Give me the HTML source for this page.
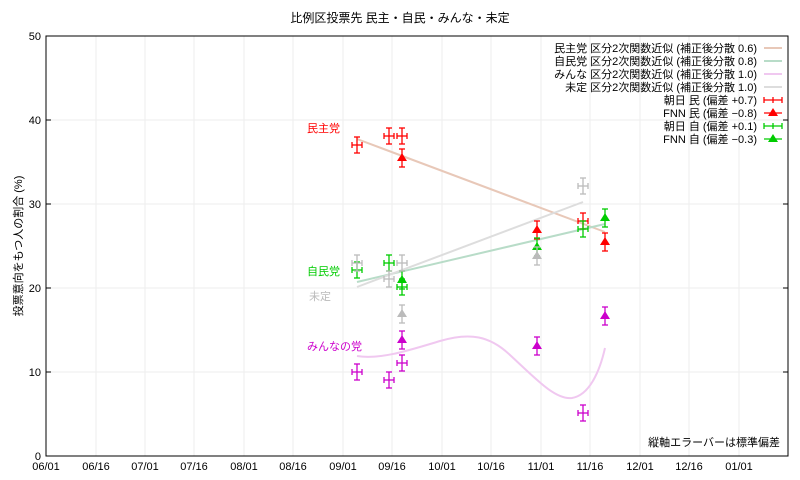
<!DOCTYPE html><html><head><meta charset="utf-8"><style>body{margin:0;background:#fff}svg{display:block;font-family:"Liberation Sans","Noto Sans CJK JP",sans-serif}</style></head><body>
<svg width="800" height="480" viewBox="0 0 800 480">
<rect width="800" height="480" fill="#fff"/>
<g stroke="#eee" stroke-width="1">
<line x1="96" y1="36" x2="96" y2="456"/><line x1="145" y1="36" x2="145" y2="456"/><line x1="194" y1="36" x2="194" y2="456"/><line x1="244" y1="36" x2="244" y2="456"/><line x1="293" y1="36" x2="293" y2="456"/><line x1="343" y1="36" x2="343" y2="456"/><line x1="392" y1="36" x2="392" y2="456"/><line x1="442" y1="36" x2="442" y2="456"/><line x1="491" y1="36" x2="491" y2="456"/><line x1="541" y1="36" x2="541" y2="456"/><line x1="590" y1="36" x2="590" y2="456"/><line x1="640" y1="36" x2="640" y2="456"/><line x1="689" y1="36" x2="689" y2="456"/><line x1="739" y1="36" x2="739" y2="456"/>
<line x1="46" y1="372" x2="788" y2="372"/><line x1="46" y1="288" x2="788" y2="288"/><line x1="46" y1="204" x2="788" y2="204"/><line x1="46" y1="120" x2="788" y2="120"/>
</g>
<rect x="46" y="36" width="742" height="420" fill="none" stroke="#000"/>
<g stroke="#000"><line x1="46" y1="372" x2="51" y2="372"/><line x1="46" y1="288" x2="51" y2="288"/><line x1="46" y1="204" x2="51" y2="204"/><line x1="46" y1="120" x2="51" y2="120"/>
<line x1="783" y1="372" x2="788" y2="372"/><line x1="783" y1="288" x2="788" y2="288"/><line x1="783" y1="204" x2="788" y2="204"/><line x1="783" y1="120" x2="788" y2="120"/></g>
<g font-size="11" fill="#000" text-anchor="end">
<text x="41" y="460">0</text><text x="41" y="376">10</text><text x="41" y="292">20</text><text x="41" y="208">30</text><text x="41" y="124">40</text><text x="41" y="40">50</text></g>
<g font-size="11" fill="#000" text-anchor="middle">
<text x="46" y="470">06/01</text><text x="96" y="470">06/16</text><text x="145" y="470">07/01</text><text x="194" y="470">07/16</text><text x="244" y="470">08/01</text><text x="293" y="470">08/16</text><text x="343" y="470">09/01</text><text x="392" y="470">09/16</text><text x="442" y="470">10/01</text><text x="491" y="470">10/16</text><text x="541" y="470">11/01</text><text x="590" y="470">11/16</text><text x="640" y="470">12/01</text><text x="689" y="470">12/16</text><text x="739" y="470">01/01</text></g>
<text x="400" y="22" font-size="12" text-anchor="middle">比例区投票先 民主・自民・みんな・未定</text>
<text transform="translate(22,246) rotate(-90)" font-size="11" text-anchor="middle">投票意向をもつ人の割合 (%)</text>
<text x="780" y="446" font-size="11" text-anchor="end">縦軸エラーバーは標準偏差</text>
<g fill="none" stroke-width="2">
<line x1="357" y1="139" x2="605" y2="232" stroke="#e8c8b8"/>
<line x1="357" y1="282" x2="605" y2="224" stroke="#b8dcc8"/>
<line x1="357" y1="287" x2="583" y2="202" stroke="#ddd"/>
<path d="M357,356 C380,360 410,350 440,341 C470,332 490,336 510,355 C535,378 555,400 572,398 C590,395 600,370 605,348" stroke="#f0c8f0"/>
</g>
<g font-size="11">
<text x="307" y="132" fill="#f00">民主党</text><text x="307" y="275" fill="#0c0">自民党</text><text x="309" y="300" fill="#bbb">未定</text><text x="307" y="350" fill="#c0c">みんなの党</text></g>
<defs>
<g id="cr"><line x1="-5" y1="0" x2="5" y2="0"/><line x1="-5" y1="-3" x2="-5" y2="3"/><line x1="5" y1="-3" x2="5" y2="3"/><line x1="0" y1="-8" x2="0" y2="8"/><line x1="-3" y1="-8" x2="3" y2="-8"/><line x1="-3" y1="8" x2="3" y2="8"/></g>
<g id="tr"><line x1="0" y1="-9" x2="0" y2="9"/><line x1="-3" y1="-9" x2="3" y2="-9"/><line x1="-3" y1="9" x2="3" y2="9"/><path d="M-5,3 L0,-5 L5,3 Z" stroke="none"/></g>
</defs>
<g stroke="#f00" fill="#f00" stroke-width="1.3">
<use href="#cr" x="357" y="145"/><use href="#cr" x="389" y="136"/><use href="#cr" x="402" y="136"/><use href="#cr" x="583" y="221"/>
<use href="#tr" x="402" y="158"/><use href="#tr" x="537" y="230"/><use href="#tr" x="605" y="242"/></g>
<g stroke="#0c0" fill="#0c0" stroke-width="1.3">
<use href="#cr" x="357" y="270"/><use href="#cr" x="389" y="263"/><use href="#cr" x="402" y="287"/><use href="#cr" x="583" y="229"/>
<use href="#tr" x="402" y="280"/><use href="#tr" x="537" y="247"/><use href="#tr" x="605" y="218"/></g>
<g stroke="#bbb" fill="#bbb" stroke-width="1.3">
<use href="#cr" x="357" y="263"/><use href="#cr" x="389" y="279"/><use href="#cr" x="402" y="263"/><use href="#cr" x="583" y="186"/>
<use href="#tr" x="402" y="314"/><use href="#tr" x="537" y="256"/></g>
<g stroke="#c0c" fill="#c0c" stroke-width="1.3">
<use href="#cr" x="357" y="372"/><use href="#cr" x="389" y="380"/><use href="#cr" x="402" y="363"/><use href="#cr" x="583" y="413"/>
<use href="#tr" x="402" y="340"/><use href="#tr" x="537" y="346"/><use href="#tr" x="605" y="316"/></g>
<g font-size="11" text-anchor="end">
<text x="757" y="52">民主党 区分2次関数近似 (補正後分散 0.6)</text>
<text x="757" y="65">自民党 区分2次関数近似 (補正後分散 0.8)</text>
<text x="757" y="78">みんな 区分2次関数近似 (補正後分散 1.0)</text>
<text x="757" y="91">未定 区分2次関数近似 (補正後分散 1.0)</text>
<text x="757" y="104">朝日 民 (偏差 +0.7)</text>
<text x="757" y="117">FNN 民 (偏差 −0.8)</text>
<text x="757" y="130">朝日 自 (偏差 +0.1)</text>
<text x="757" y="143">FNN 自 (偏差 −0.3)</text></g>
<g stroke-width="2"><line x1="764" y1="48" x2="782" y2="48" stroke="#e8c8b8"/><line x1="764" y1="61" x2="782" y2="61" stroke="#b8dcc8"/><line x1="764" y1="74" x2="782" y2="74" stroke="#f0c8f0"/><line x1="764" y1="87" x2="782" y2="87" stroke="#ddd"/></g>
<g stroke="#f00" fill="#f00" stroke-width="1.3"><line x1="764" y1="100" x2="782" y2="100"/><line x1="764" y1="97" x2="764" y2="103"/><line x1="782" y1="97" x2="782" y2="103"/><line x1="773" y1="97" x2="773" y2="103"/>
<line x1="764" y1="113" x2="782" y2="113"/><path d="M768,116 L773,108 L778,116Z" stroke="none"/></g>
<g stroke="#0c0" fill="#0c0" stroke-width="1.3"><line x1="764" y1="126" x2="782" y2="126"/><line x1="764" y1="123" x2="764" y2="129"/><line x1="782" y1="123" x2="782" y2="129"/><line x1="773" y1="123" x2="773" y2="129"/>
<line x1="764" y1="139" x2="782" y2="139"/><path d="M768,142 L773,134 L778,142Z" stroke="none"/></g>
</svg></body></html>
